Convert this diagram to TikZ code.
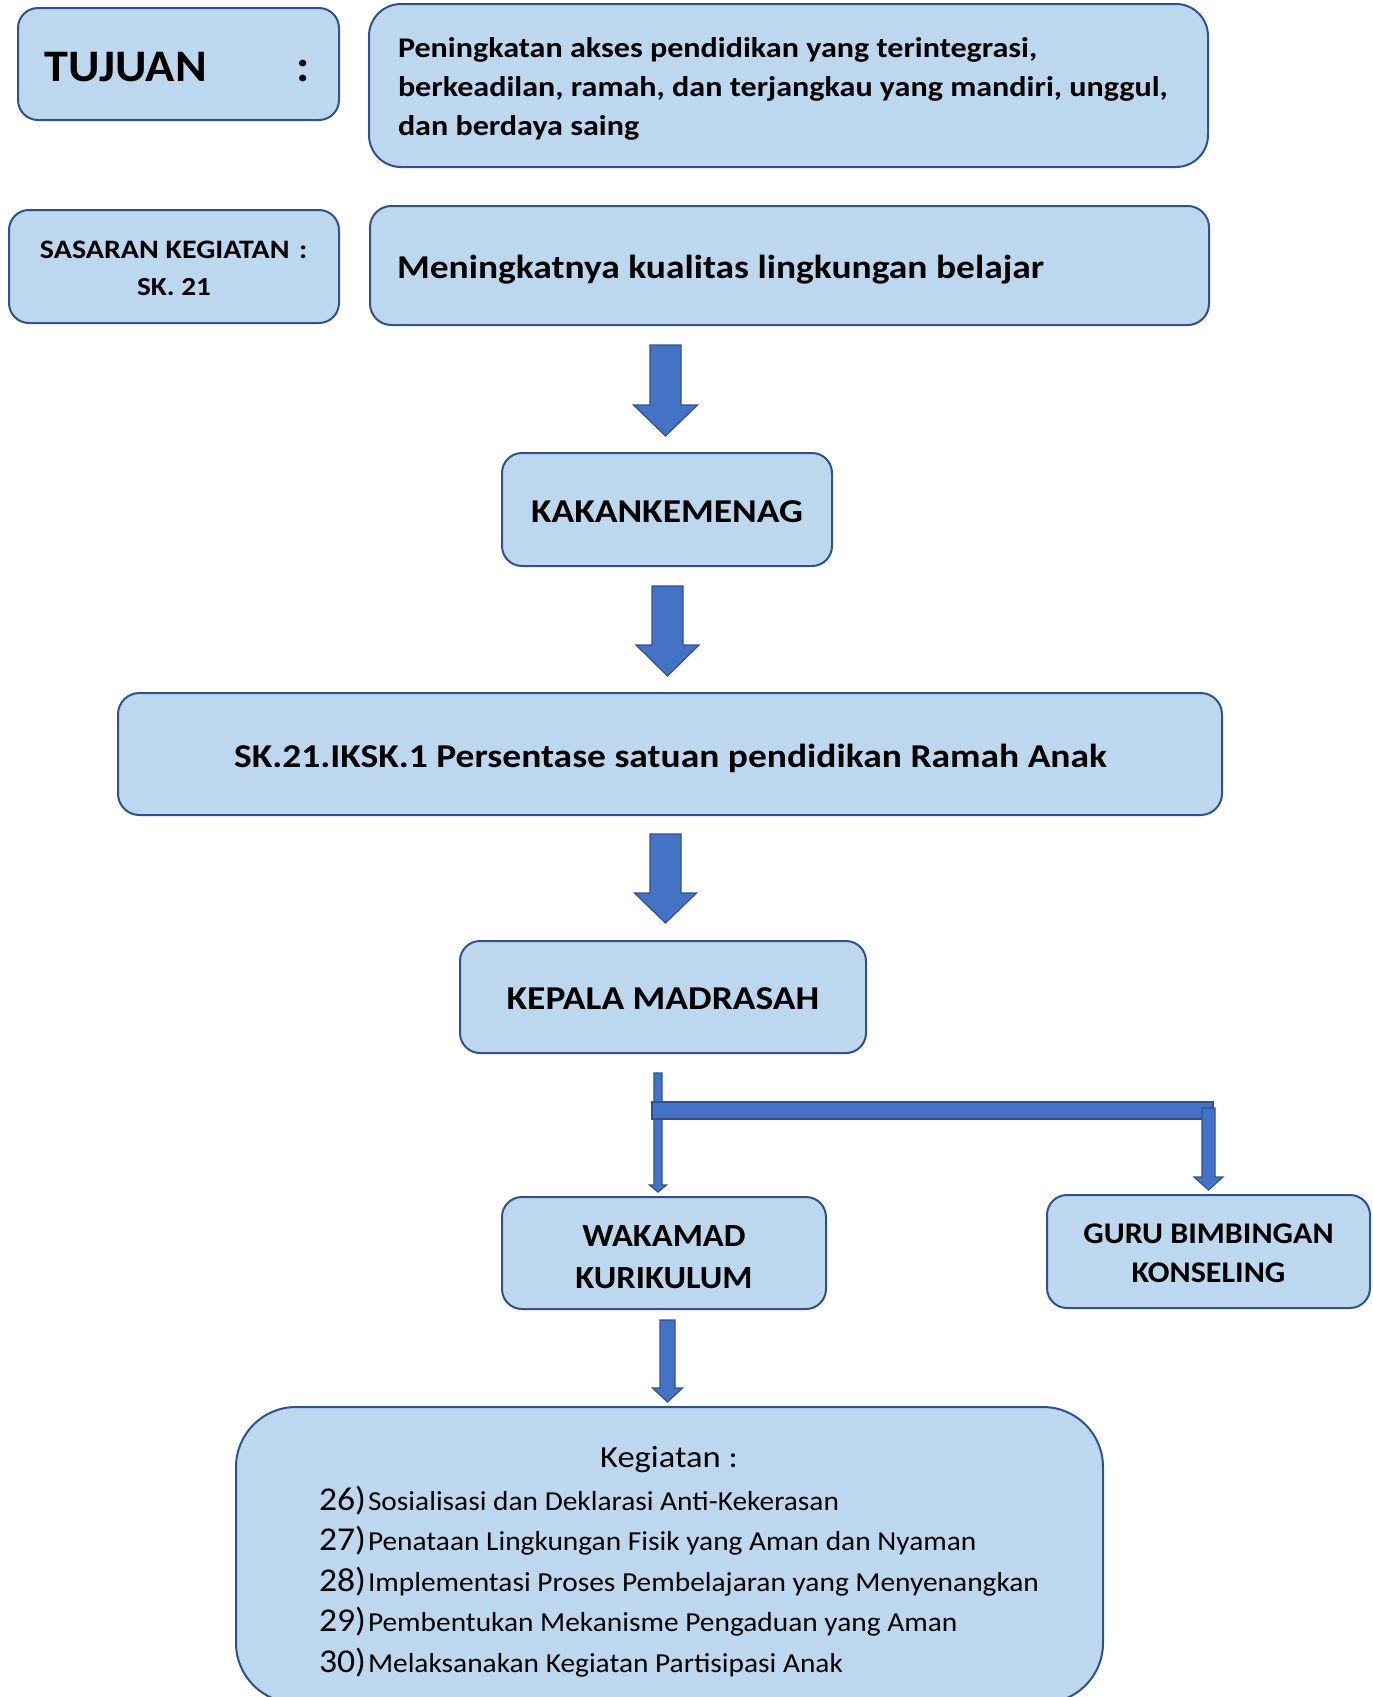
\documentclass[tikz,border=0pt]{standalone}
\usepackage{fontspec}
\setmainfont{Carlito}
\newfontfamily\fwide{Carlito}[FakeStretch=1.125]
\newfontfamily\fmid{Carlito}[FakeStretch=1.07]
\definecolor{boxfill}{HTML}{BDD7EE}
\definecolor{boxline}{HTML}{2F528F}
\definecolor{arrfill}{HTML}{4472C4}
\tikzset{
  boxst/.style={draw=boxline, fill=boxfill, line width=1.5pt, inner sep=0pt, outer sep=0pt},
  arrst/.style={draw=boxline, fill=arrfill, line width=0.9pt, line join=miter},
  txt/.style={inner sep=0pt, outer sep=0pt, text=black},
  bigb/.style={txt, font=\fwide\bfseries\fontsize{25}{30}\selectfont},
  goalf/.style={txt, font=\fwide\bfseries\fontsize{21.4}{26}\selectfont},
  wakf/.style={txt, font=\fmid\bfseries\fontsize{24.2}{29}\selectfont},
  gurf/.style={txt, font=\fmid\bfseries\fontsize{22.5}{27}\selectfont},
  numf/.style={txt, font=\fmid\fontsize{25}{30}\selectfont},
  itemf/.style={txt, font=\fmid\fontsize{20.6}{25}\selectfont},
}
% block arrow: centre x, top y, tip y, shaft half width, head half width, head length
\newcommand\blockarr[6]{%
  \draw[arrst] (#1-#4,#2) -- (#1+#4,#2) -- (#1+#4,#3-#6) -- (#1+#5,#3-#6)
     -- (#1,#3) -- (#1-#5,#3-#6) -- (#1-#4,#3-#6) -- cycle;}
\begin{document}
\begin{tikzpicture}[x=0.75pt,y=-0.75pt]
\useasboundingbox (0,0) rectangle (1373,1697);
\begin{scope}
\clip (0,0) rectangle (1373,1697);
% boxes
\node[boxst, rounded corners=15pt, minimum width=240.75pt, minimum height=84pt] (tuj) at (178.5,64) {};
\node[boxst, rounded corners=24pt, minimum width=629.25pt, minimum height=122.25pt] (goal) at (788.5,85.5) {};
\node[boxst, rounded corners=15pt, minimum width=247.5pt, minimum height=84.75pt] (sas) at (174,266.5) {};
\node[boxst, rounded corners=16pt, minimum width=629.25pt, minimum height=89.25pt] (men) at (789.5,265.5) {};
\node[boxst, rounded corners=15pt, minimum width=247.5pt, minimum height=84.75pt] (kak) at (667,509.5) {};
\node[boxst, rounded corners=16pt, minimum width=828pt, minimum height=91.5pt] (sk) at (670,754) {};
\node[boxst, rounded corners=15pt, minimum width=304.5pt, minimum height=84pt] (kep) at (663,997) {};
\node[boxst, rounded corners=15pt, minimum width=243pt, minimum height=84pt] (wak) at (664,1253) {};
\node[boxst, rounded corners=15pt, minimum width=242.25pt, minimum height=84.75pt] (guru) at (1208.5,1251.5) {};
\node[boxst, rounded corners=45pt, minimum width=650.25pt, minimum height=222pt] (keg) at (669.5,1555) {};
\end{scope}
% block arrows between boxes
\blockarr{665.5}{345}{436}{15.5}{32}{31}
\blockarr{667.5}{586}{676}{15.5}{31.5}{31}
\blockarr{665.5}{834}{923}{15.5}{31}{30}
\blockarr{667.5}{1320}{1402}{7.5}{15}{14}
% split connector from KEPALA MADRASAH
\coordinate (split) at (658,1073);
\blockarr{658}{1073}{1192}{4}{8.5}{7}
\draw[arrst] (652,1102) rectangle (1213,1119);
\blockarr{1208.5}{1108}{1190}{6.5}{14.5}{13}
% texts
\node[txt, anchor=base west, font=\fmid\bfseries\fontsize{33.8}{40}\selectfont] (tujt) at (45,81) {TUJUAN};
\node[txt, anchor=base west, font=\fmid\bfseries\fontsize{33.8}{40}\selectfont] (tujc) at (296,81) {:};
\node[goalf, anchor=base west] (g1) at (398,57) {Peningkatan akses pendidikan yang terintegrasi,};
\node[goalf, anchor=base west] (g2) at (398,96) {berkeadilan, ramah, dan terjangkau yang mandiri, unggul,};
\node[goalf, anchor=base west] (g3) at (398,135) {dan berdaya saing};
\node[txt, anchor=base west, font=\fwide\bfseries\fontsize{20}{24}\selectfont] (sas1) at (40,258) {SASARAN KEGIATAN};
\node[txt, anchor=base west, font=\fwide\bfseries\fontsize{20}{24}\selectfont] (sas1c) at (299,258) {:};
\node[txt, anchor=base, font=\fwide\bfseries\fontsize{19.5}{24}\selectfont] (sas2) at (174,295) {SK. 21};
\node[bigb, anchor=base west] (ment) at (397,278) {Meningkatnya kualitas lingkungan belajar};
\node[bigb, anchor=base] (kakt) at (667,522) {KAKANKEMENAG};
\node[bigb, anchor=base] (skt) at (670.5,767) {SK.21.IKSK.1 Persentase satuan pendidikan Ramah Anak};
\node[bigb, anchor=base] (kept) at (663,1009) {KEPALA MADRASAH};
\node[wakf, anchor=base] (wak1) at (664,1246) {WAKAMAD};
\node[wakf, anchor=base] (wak2) at (664,1288) {KURIKULUM};
\node[gurf, anchor=base] (guru1) at (1208.5,1243) {GURU BIMBINGAN};
\node[gurf, anchor=base] (guru2) at (1208.5,1282) {KONSELING};
\node[txt, anchor=base, font=\fwide\fontsize{23}{28}\selectfont] (kegt) at (669,1467) {Kegiatan :};
\node[numf, anchor=base west] (n26) at (319,1510) {26)};
\node[numf, anchor=base west] (n27) at (319,1550.5) {27)};
\node[numf, anchor=base west] (n28) at (319,1591) {28)};
\node[numf, anchor=base west] (n29) at (319,1631.5) {29)};
\node[numf, anchor=base west] (n30) at (319,1672) {30)};
\node[itemf, anchor=base west] (i26) at (368,1510) {Sosialisasi dan Deklarasi Anti-Kekerasan};
\node[itemf, anchor=base west] (i27) at (368,1550.5) {Penataan Lingkungan Fisik yang Aman dan Nyaman};
\node[itemf, anchor=base west] (i28) at (368,1591) {Implementasi Proses Pembelajaran yang Menyenangkan};
\node[itemf, anchor=base west] (i29) at (368,1631.5) {Pembentukan Mekanisme Pengaduan yang Aman};
\node[itemf, anchor=base west] (i30) at (368,1672) {Melaksanakan Kegiatan Partisipasi Anak};
\end{tikzpicture}
\end{document}
